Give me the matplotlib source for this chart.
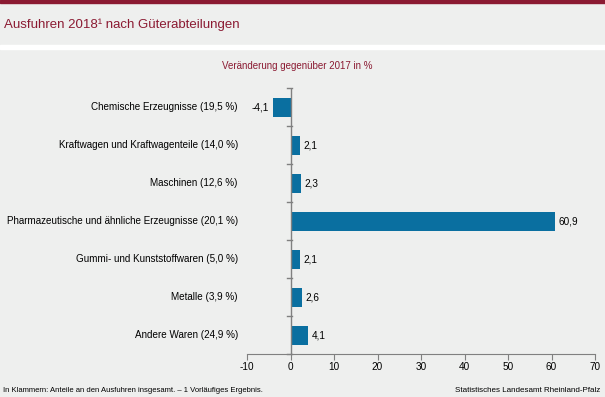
import numpy as np
import matplotlib.pyplot as plt

categories = ["Chemische Erzeugnisse (19,5 %)",
              "Kraftwagen und Kraftwagenteile (14,0 %)",
              "Maschinen (12,6 %)",
              "Pharmazeutische und ähnliche Erzeugnisse (20,1 %)",
              "Gummi- und Kunststoffwaren (5,0 %)",
              "Metalle (3,9 %)",
              "Andere Waren (24,9 %)"]
values = [-4.1, 2.1, 2.3, 60.9, 2.1, 2.6, 4.1]
xticks = [-10, 0, 10, 20, 30, 40, 50, 60, 70]

W, H = 605, 397
bg = "#eeefee"
red = "#8b1a32"
bar_col = "#0a6fa0"

plt.rcParams['font.family'] = ['Liberation Sans', 'DejaVu Sans']
fig = plt.figure(figsize=(W / 100, H / 100), dpi=100)
fig.patch.set_facecolor(bg)

# Titelband
fig.add_artist(plt.Rectangle((0, 1 - 3 / H), 1, 3 / H, color=red, transform=fig.transFigure))
fig.add_artist(plt.Rectangle((0, 1 - 49 / H), 1, 4 / H, color="white", transform=fig.transFigure))
fig.text(4 / W, 1 - 25 / H, "Ausfuhren 2018¹ nach Güterabteilungen", color=red,
         fontsize=9.5, va="center", ha="left")
fig.text(297 / W, 1 - 66 / H, "Veränderung gegenüber 2017 in %", color=red,
         fontsize=7, va="center", ha="center")

# Achse: x -10 bei 247px, 70 bei 595px; y von 88 bis 354px
ax = fig.add_axes([247 / W, 1 - 354 / H, (595 - 247) / W, (354 - 88) / H])
ax.set_facecolor(bg)
n = len(categories)
y = np.arange(n)
ax.barh(y, values, height=0.5, color=bar_col, zorder=3)
ax.set_ylim(n - 0.5, -0.5)
ax.set_xlim(-10, 70)
ax.set_xticks(xticks)
ax.set_xticklabels([str(t) for t in xticks], fontsize=7.2)
ax.set_yticks([])
for s in ["top", "right", "left"]:
    ax.spines[s].set_visible(False)
ax.spines["bottom"].set_color("#808080")
ax.tick_params(axis="x", length=4, color="#808080", pad=2)

# Nulllinie mit Teilstrichen
ax.axvline(0, color="#808080", lw=1, zorder=4)
for b in np.arange(-0.5, n, 1.0):
    ax.plot([-0.7, 0.4], [b, b], color="#808080", lw=1, zorder=4, clip_on=False)

for i, (c, v) in enumerate(zip(categories, values)):
    lbl = f"{v:.1f}".replace(".", ",")
    if v < 0:
        ax.text(v - 0.8, i, lbl, ha="right", va="center", fontsize=7.2)
    else:
        ax.text(v + 0.8, i, lbl, ha="left", va="center", fontsize=7.2)
    ax.text(-12.1, i, c, ha="right", va="center", fontsize=7.1)

fig.text(3 / W, 1 - 390 / H, "In Klammern: Anteile an den Ausfuhren insgesamt. – 1 Vorläufiges Ergebnis.",
         fontsize=5.5, va="center", ha="left")
fig.text(600 / W, 1 - 390 / H, "Statistisches Landesamt Rheinland-Pfalz",
         fontsize=5.8, va="center", ha="right")

fig.savefig("out.png", dpi=100, facecolor=bg)
